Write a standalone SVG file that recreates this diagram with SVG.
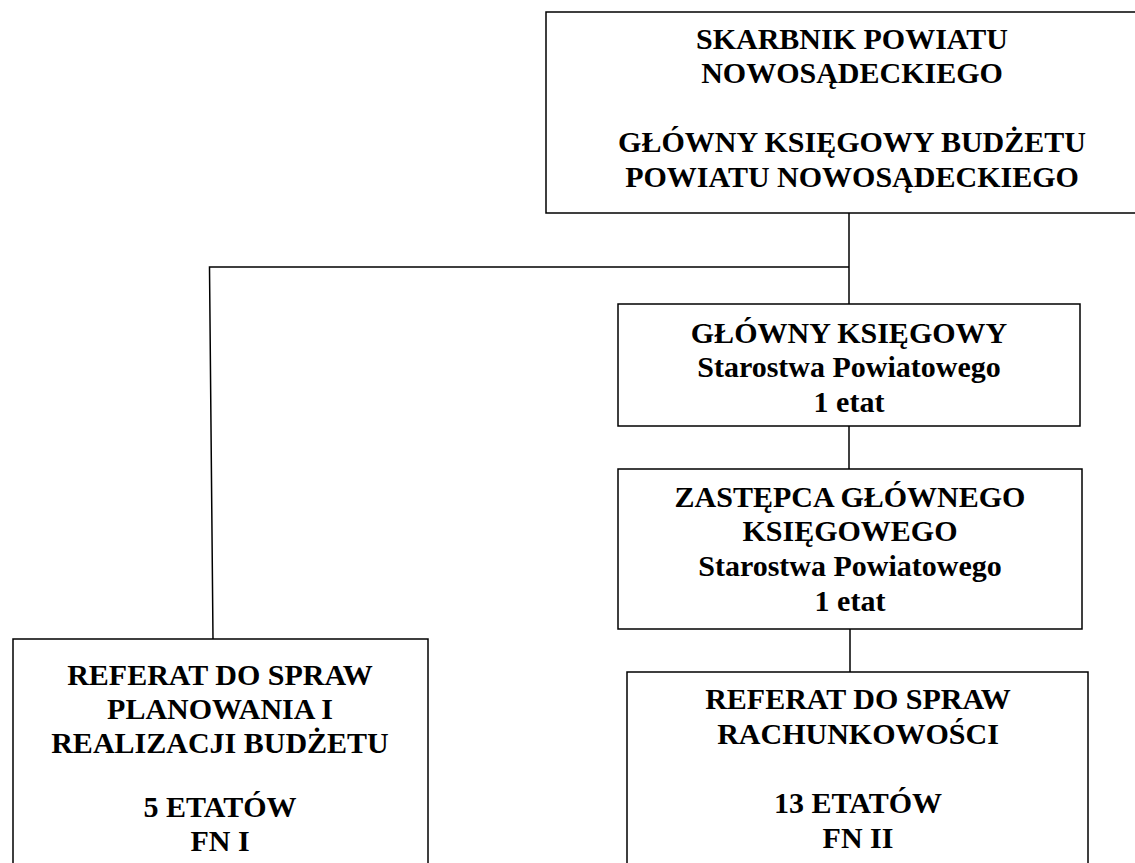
<svg xmlns="http://www.w3.org/2000/svg" width="1135" height="863" viewBox="0 0 1135 863">
<style>
.box{fill:#fff;stroke:#000;stroke-width:1.5}
.ln{fill:none;stroke:#000;stroke-width:1.5}
text{font-family:"Liberation Serif","Times New Roman",serif;font-weight:bold;font-size:30px;fill:#000;text-anchor:middle}
</style>
<rect width="1135" height="863" fill="#fff"/>
<g id="connectors">
<line class="ln" x1="849" y1="213" x2="849" y2="304"/>
<polyline class="ln" points="849,267 209.5,267 213,639"/>
<line class="ln" x1="849" y1="426" x2="849" y2="469"/>
<line class="ln" x1="850" y1="629" x2="850" y2="672"/>
</g>
<g id="skarbnik">
<rect class="box" x="546" y="12" width="620" height="201"/>
<text x="852" y="49">SKARBNIK POWIATU</text>
<text x="852" y="83">NOWOSĄDECKIEGO</text>
<text x="852" y="152">GŁÓWNY KSIĘGOWY BUDŻETU</text>
<text x="852" y="187">POWIATU NOWOSĄDECKIEGO</text>
</g>
<g id="glowny">
<rect class="box" x="618" y="304" width="462" height="122"/>
<text x="849" y="343">GŁÓWNY KSIĘGOWY</text>
<text x="849" y="377">Starostwa Powiatowego</text>
<text x="849" y="412">1 etat</text>
</g>
<g id="zastepca">
<rect class="box" x="618" y="469" width="464" height="160"/>
<text x="850" y="507">ZASTĘPCA GŁÓWNEGO</text>
<text x="850" y="541">KSIĘGOWEGO</text>
<text x="850" y="576">Starostwa Powiatowego</text>
<text x="850" y="611">1 etat</text>
</g>
<g id="referat-planowania">
<rect class="box" x="13" y="639" width="415" height="240"/>
<text x="220" y="685">REFERAT DO SPRAW</text>
<text x="220" y="719">PLANOWANIA I</text>
<text x="220" y="753">REALIZACJI BUDŻETU</text>
<text x="220" y="817">5 ETATÓW</text>
<text x="220" y="851">FN I</text>
</g>
<g id="referat-rachunkowosci">
<rect class="box" x="627" y="672" width="461" height="210"/>
<text x="858" y="709">REFERAT DO SPRAW</text>
<text x="858" y="744">RACHUNKOWOŚCI</text>
<text x="858" y="813">13 ETATÓW</text>
<text x="858" y="848">FN II</text>
</g>
</svg>
